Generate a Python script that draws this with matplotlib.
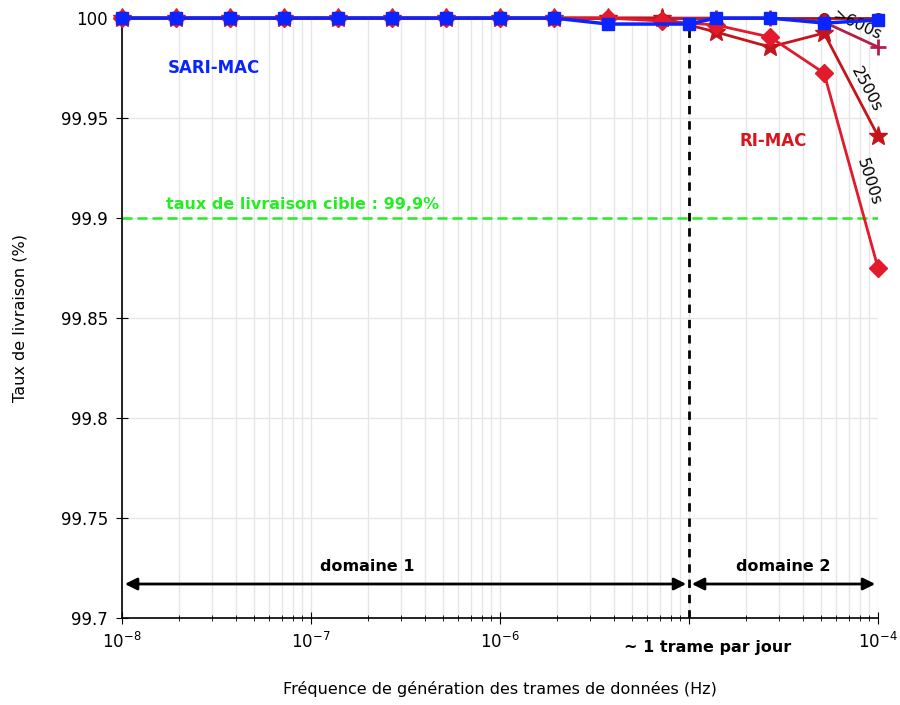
import numpy as np
import matplotlib.pyplot as plt
from matplotlib.ticker import LogLocator, NullFormatter

# frequences (Hz) : 15 points en echelle log entre 1e-8 et 1e-4
freq_ri = np.logspace(-8, -4, 15)
freq_sari = np.concatenate([freq_ri[:10], [1e-5], freq_ri[11:]])

# taux de livraison (%)
sari_mac = [100, 100, 100, 100, 100, 100, 100, 100, 100, 99.997,
            99.997, 100, 100, 99.9975, 99.999]
ri_600 = [100] * 13 + [100, 100]
ri_1000 = [100] * 13 + [99.998, 99.9855]
ri_2500 = [100] * 10 + [100, 99.993, 99.9855, 99.9925, 99.941]
ri_5000 = [100] * 10 + [99.9985, 99.9965, 99.9905, 99.9725, 99.875]

x_ticks = [1e-8, 1e-7, 1e-6, 1e-5, 1e-4]
x_ticklabels = ['$10^{-8}$', '$10^{-7}$', '$10^{-6}$', '', '$10^{-4}$']
y_ticks = [99.7, 99.75, 99.8, 99.85, 99.9, 99.95, 100]
y_ticklabels = ['99.7', '99.75', '99.8', '99.85', '99.9', '99.95', '100']

target = 99.9
f_jour = 1e-5

fig = plt.figure(figsize=(9, 7.05), dpi=100)
ax = fig.add_axes([0.1356, 0.1234, 0.84, 0.851])

ax.plot(freq_ri, ri_600, color='#a3121c', marker='o', ms=7, lw=2, zorder=3, clip_on=False)
ax.plot(freq_ri, ri_1000, color='#b2204a', marker='+', ms=11, mew=2, lw=2, zorder=3, clip_on=False)
ax.plot(freq_ri, ri_2500, color='#c4141c', marker='*', ms=14, lw=2, zorder=3, clip_on=False)
ax.plot(freq_ri, ri_5000, color='#e3192c', marker='D', ms=9, lw=2, zorder=3, clip_on=False)
ax.plot(freq_sari, sari_mac, color='#0a24ff', marker='s', ms=9, lw=2.5, zorder=4, clip_on=False)

ax.axhline(target, color='#22ee22', ls='--', lw=1.8, dashes=(4, 2), zorder=2)
ax.axvline(f_jour, color='black', ls='--', lw=2, dashes=(3, 2.5), zorder=2)

ax.set_xscale('log')
ax.set_xlim(1e-8, 1e-4)
ax.set_ylim(99.7, 100)
ax.set_yticks(y_ticks)
ax.set_yticklabels(y_ticklabels)
ax.set_xticks(x_ticks)
ax.set_xticklabels(x_ticklabels)
ax.xaxis.set_minor_locator(LogLocator(base=10, subs=np.arange(2, 10)))
ax.xaxis.set_minor_formatter(NullFormatter())

ax.grid(True, which='both', axis='x', color='#e6e6e6', lw=1)
ax.grid(True, which='major', axis='y', color='#e6e6e6', lw=1)
ax.set_axisbelow(True)
for s in ['top', 'right']:
    ax.spines[s].set_visible(False)
ax.spines['left'].set_linewidth(1.2)
ax.spines['bottom'].set_linewidth(1.2)
ax.tick_params(axis='both', which='major', direction='inout', length=8, labelsize=12, pad=6)
ax.tick_params(axis='x', which='minor', direction='inout', length=5)

ax.set_xlabel('Fréquence de génération des trames de données (Hz)', fontsize=11.5, labelpad=21)
ax.set_ylabel('Taux de livraison (%)', fontsize=11.5, labelpad=24)

# domaines
ax.annotate('', xy=(1e-8, 99.717), xytext=(f_jour, 99.717),
            arrowprops=dict(arrowstyle='<|-|>', color='black', lw=2, mutation_scale=18))
ax.annotate('', xy=(f_jour, 99.717), xytext=(1e-4, 99.717),
            arrowprops=dict(arrowstyle='<|-|>', color='black', lw=2, mutation_scale=18))
ax.text(10**-6.7, 99.7235, 'domaine 1', ha='center', fontsize=11.5, fontweight='bold')
ax.text(10**-4.5, 99.7235, 'domaine 2', ha='center', fontsize=11.5, fontweight='bold')
ax.text(10**-4.9, 99.6855, '~ 1 trame par jour', ha='center', va='center',
        fontsize=11.5, fontweight='bold', clip_on=False)

ax.text(10**-7.77, 99.9045, 'taux de livraison cible : 99,9%', color='#22ee22',
        fontsize=11.5, fontweight='bold')
ax.text(10**-7.76, 99.975, 'SARI-MAC', color='#0a24ff', fontsize=12,
        fontweight='bold', va='center')
ax.text(10**-4.555, 99.9385, 'RI-MAC', color='#d8141f', fontsize=12,
        fontweight='bold', va='center', ha='center')

ax.text(10**-4.11, 99.9965, '>600s', fontsize=11.5, rotation=-25,
        ha='center', va='center', clip_on=False)
ax.text(10**-4.06, 99.9645, '2500s', fontsize=11.5, rotation=-62,
        ha='center', va='center')
ax.text(10**-4.05, 99.918, '5000s', fontsize=11.5, rotation=-72,
        ha='center', va='center')

fig.savefig('out.png', dpi=100)
